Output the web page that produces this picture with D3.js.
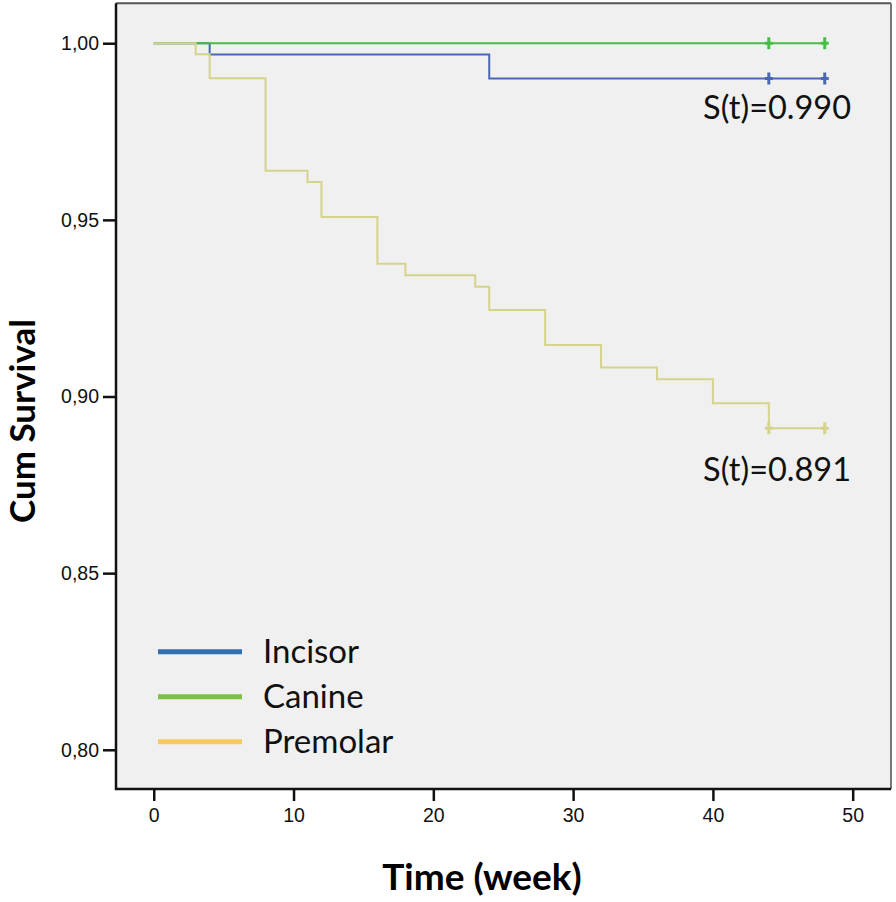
<!DOCTYPE html>
<html><head><meta charset="utf-8">
<script src="https://cdn.jsdelivr.net/npm/d3@7"></script>
<style>html,body{margin:0;padding:0;background:#fff;}svg{display:block;}</style>
</head><body>
<svg id="c" width="896" height="902"></svg>
<script>
const xTicks = [0, 10, 20, 30, 40, 50];
const yTicks = [0.80, 0.85, 0.90, 0.95, 1.00];
const yTickLabels = ["0,80", "0,85", "0,90", "0,95", "1,00"];

const groups = ["Incisor", "Canine", "Premolar"];

const incisorTimes = [0, 4, 24, 48];
const incisorSurv  = [1.0, 0.9968, 0.990, 0.990];
const incisorCensor = [44, 48];

const canineTimes = [0, 48];
const canineSurv  = [1.0, 1.0];
const canineCensor = [44, 48];

const premolarTimes = [0, 3, 4, 8, 11, 12, 16, 18, 23, 24, 28, 32, 36, 40, 44, 48];
const premolarSurv  = [1.0, 0.9969, 0.9901, 0.9639, 0.9607, 0.9508, 0.9376, 0.9343, 0.9311, 0.9245, 0.9146, 0.9082, 0.9049, 0.8981, 0.891, 0.891];
const premolarCensor = [44, 48];

const annotations = [
  {text: "S(t)=0.990", t: 39.3, s: 0.9785},
  {text: "S(t)=0.891", t: 39.3, s: 0.8760}
];

const lineColors = {Incisor: "#4a68b2", Canine: "#44be44", Premolar: "#d6d38c"};
const legendColors = {Incisor: "#3270b0", Canine: "#7cc242", Premolar: "#f8ca5c"};

const svg = d3.select("#c");
const L = 116, R = 891, T = 3.3, B = 789;
const x = d3.scaleLinear().domain([-2.7, 52.74]).range([L, R]);
const y = d3.scaleLinear().domain([0.7889, 1.0113]).range([B, T]);

// plot background
svg.append("rect").attr("x", L).attr("y", T).attr("width", R - L).attr("height", B - T)
  .attr("fill", "#f0f0f0");

// axes
const xAxis = d3.axisBottom(x).tickValues(xTicks).tickSize(12).tickPadding(7).tickFormat(d3.format("d"));
const gx = svg.append("g").attr("transform", `translate(0,${B})`).call(xAxis);
const yAxis = d3.axisLeft(y).tickValues(yTicks).tickSize(13).tickPadding(4)
  .tickFormat((d, i) => yTickLabels[i]);
const gy = svg.append("g").attr("transform", `translate(${L},0)`).call(yAxis);
[gx, gy].forEach(g => {
  g.select(".domain").remove();
  g.selectAll(".tick line").attr("stroke", "#111").attr("stroke-width", 2.5);
  g.selectAll(".tick text").attr("fill", "#111")
    .style("font-family", "'Liberation Sans', Arial, sans-serif").style("font-size", "19.5px");
});

// frame
svg.append("path")
  .attr("d", `M${L},${T}H${R}`).attr("stroke", "#555").attr("stroke-width", 2).attr("fill", "none");
svg.append("path")
  .attr("d", `M${R},${T}V${B}`).attr("stroke", "#777").attr("stroke-width", 2).attr("fill", "none");
svg.append("path")
  .attr("d", `M${L},${T}V${B}H${R}`).attr("stroke", "#111").attr("stroke-width", 2.5).attr("fill", "none");

// curves
const series = [
  {name: "Incisor", times: incisorTimes, surv: incisorSurv, cens: incisorCensor},
  {name: "Canine", times: canineTimes, surv: canineSurv, cens: canineCensor},
  {name: "Premolar", times: premolarTimes, surv: premolarSurv, cens: premolarCensor}
];
const line = d3.line().x(d => x(d[0])).y(d => y(d[1])).curve(d3.curveStepAfter);
const survAt = (s, t) => { let v = s.surv[0]; s.times.forEach((tt, i) => { if (tt <= t) v = s.surv[i]; }); return v; };

series.forEach(s => {
  const pts = s.times.map((t, i) => [t, s.surv[i]]);
  svg.append("path").attr("d", line(pts)).attr("fill", "none")
    .attr("stroke", lineColors[s.name]).attr("stroke-width", 2);
  s.cens.forEach(t => {
    const cx = x(t), cy = y(survAt(s, t));
    svg.append("path").attr("d", `M${cx},${cy - 6}V${cy + 6}M${cx - 4},${cy}H${cx + 4}`)
      .attr("stroke", lineColors[s.name]).attr("stroke-width", 3).attr("fill", "none");
  });
});

// annotations
annotations.forEach(a => {
  svg.append("text").attr("x", x(a.t)).attr("y", y(a.s)).text(a.text)
    .attr("fill", "#111").style("font-family", "Lato, 'Open Sans', sans-serif").style("font-size", "32.5px");
});

// legend
const lg = svg.append("g");
groups.forEach((g, i) => {
  const ly = 651.7 + i * 45;
  lg.append("line").attr("x1", 158).attr("x2", 242).attr("y1", ly).attr("y2", ly)
    .attr("stroke", legendColors[g]).attr("stroke-width", 5);
  lg.append("text").attr("x", 263).attr("y", ly + 11.5).text(g).attr("fill", "#111")
    .style("font-family", "Lato, 'Open Sans', sans-serif").style("font-size", "33px");
});

// axis titles
svg.append("text").attr("x", 482).attr("y", 890).attr("text-anchor", "middle").text("Time (week)")
  .attr("fill", "#000").style("font-family", "Lato, 'Open Sans', sans-serif").style("font-weight", "bold").style("font-size", "37px");
svg.append("text").attr("transform", "translate(35,421) rotate(-90)").attr("text-anchor", "middle").text("Cum Survival")
  .attr("fill", "#000").style("font-family", "Lato, 'Open Sans', sans-serif").style("font-weight", "bold").style("font-size", "35px");
</script>
</body></html>
